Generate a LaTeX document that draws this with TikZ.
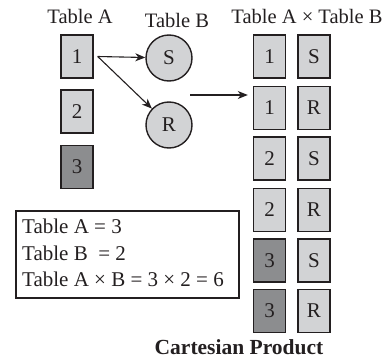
\documentclass[tikz,border=0pt]{standalone}
\usepackage{fontspec}
\setmainfont{Liberation Serif}
\usetikzlibrary{arrows.meta}
\definecolor{cellgray}{HTML}{D2D3D5}
\definecolor{darkcell}{HTML}{8C8D8F}
\definecolor{ink}{HTML}{231F20}
\tikzset{
  cell/.style={draw=ink, line width=1.4pt, fill=cellgray, minimum width=32pt, minimum height=43pt, inner sep=0pt, font=\fontsize{21}{21}\selectfont, text=ink},
  darkcell/.style={cell, fill=darkcell},
  member/.style={circle, draw=ink, line width=1.4pt, fill=cellgray, minimum size=46pt, inner sep=0pt, font=\fontsize{21}{21}\selectfont, text=ink},
  title/.style={font=\fontsize{20.5}{20.5}\selectfont, text=ink, inner sep=0pt},
  info/.style={font=\fontsize{21}{21}\selectfont, text=ink, inner sep=0pt, anchor=west},
  link/.style={draw=ink, line width=1.1pt, -{Stealth[length=10pt,width=8pt,inset=3pt]}},
}
\begin{document}
\begin{tikzpicture}[x=1pt,y=-1pt]
\useasboundingbox (0,0) rectangle (389,359);

% Table A
\node[title] (ta) at (80,16) {Table A};
\node[cell] (a1) at (77,56.5) {1};
\node[cell] (a2) at (77,111.5) {2};
\node[darkcell] (a3) at (77,167) {3};

% Table B
\node[title] (tb) at (177,20) {Table B};
\node[member] (s) at (169,58) {S};
\node[member] (r) at (169,125) {R};

% pairings of element 1
\coordinate (a1out) at ([xshift=4pt]a1.east);
\draw[link] (a1out) -- (s);
\draw[link] (a1out) -- (r);

% Table A x Table B
\node[title] (tab) at (307,16) {Table A × Table B};
\node[cell] (p1a) at (269.5,56.5) {1};
\node[cell] (p1b) at (314,56.5) {S};
\node[cell] (p2a) at (269.5,108) {1};
\node[cell] (p2b) at (314,108) {R};
\node[cell] (p3a) at (269.5,158.5) {2};
\node[cell] (p3b) at (314,158.5) {S};
\node[cell] (p4a) at (269.5,210) {2};
\node[cell] (p4b) at (314,210) {R};
\node[darkcell] (p5a) at (269.5,260.5) {3};
\node[cell] (p5b) at (314,260.5) {S};
\node[darkcell] (p6a) at (269.5,311) {3};
\node[cell] (p6b) at (314,311) {R};

\coordinate (prodin) at (190,95);
\draw[link, shorten >=5pt] (prodin) -- (prodin -| p2a.west);

% counts
\node[draw=ink, line width=1.4pt, minimum width=223pt, minimum height=87pt, inner sep=0pt] (count) at (127.5,254.5) {};
\node[info] (c1) at (22,226) {Table A = 3};
\node[info] (c2) at (22,253) {Table B \ = 2};
\node[info] (c3) at (22,279) {Table A × B = 3 × 2 = 6};

\node[text=ink, inner sep=0pt, font=\fontsize{21.5}{21.5}\selectfont\bfseries] (cap) at (239,347) {Cartesian Product};
\end{tikzpicture}
\end{document}
